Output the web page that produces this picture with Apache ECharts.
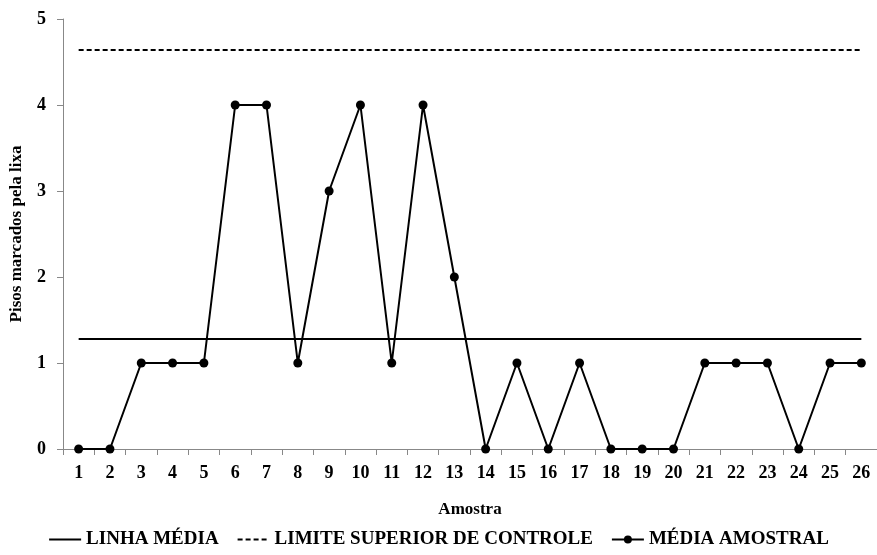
<!DOCTYPE html>
<html><head><meta charset="utf-8">
<script src="https://cdn.jsdelivr.net/npm/echarts@6/dist/echarts.min.js"></script>
<style>html,body{margin:0;padding:0;background:#fff}#c{width:877px;height:555px}</style>
</head><body><div id="c"></div>
<script>
const categories = ['1','2','3','4','5','6','7','8','9','10','11','12','13','14','15','16','17','18','19','20','21','22','23','24','25','26'];
const mediaAmostral = [0,0,1,1,1,4,4,1,3,4,1,4,2,0,1,0,1,0,0,0,1,1,1,0,1,1];
const linhaMedia = [1.28,1.28,1.28,1.28,1.28,1.28,1.28,1.28,1.28,1.28,1.28,1.28,1.28,1.28,1.28,1.28,1.28,1.28,1.28,1.28,1.28,1.28,1.28,1.28,1.28,1.28];
const limiteSuperior = [4.64,4.64,4.64,4.64,4.64,4.64,4.64,4.64,4.64,4.64,4.64,4.64,4.64,4.64,4.64,4.64,4.64,4.64,4.64,4.64,4.64,4.64,4.64,4.64,4.64,4.64];
const yTicks = [0,1,2,3,4,5];

const font = 'Liberation Serif, Times New Roman, serif';
const noDot = {color: 'rgba(0,0,0,0)', borderWidth: 0, borderColor: 'rgba(0,0,0,0)'};
const chart = echarts.init(document.getElementById('c'));
chart.setOption({
  animation: false,
  backgroundColor: '#fff',
  textStyle: {fontFamily: font, color: '#000'},
  grid: {left: 61, right: -7, top: 19, bottom: 106},
  legend: {
    bottom: 1, left: 'center', itemGap: 18, itemWidth: 32, itemHeight: 10,
    textStyle: {fontFamily: font, fontWeight: 'bold', fontSize: 19, color: '#000'},
    data: [
      {name: 'LINHA MÉDIA', itemStyle: noDot},
      {name: 'LIMITE SUPERIOR DE CONTROLE', itemStyle: noDot},
      {name: 'MÉDIA AMOSTRAL'}
    ]
  },
  xAxis: {
    type: 'category', data: categories, boundaryGap: true,
    name: 'Amostra', nameLocation: 'middle', nameGap: 52,
    nameTextStyle: {fontFamily: font, fontWeight: 'bold', fontSize: 17, color: '#000'},
    axisLine: {lineStyle: {color: '#888', width: 1}},
    axisTick: {show: true, alignWithLabel: false, length: 6, lineStyle: {color: '#888'}},
    axisLabel: {fontFamily: font, fontWeight: 'bold', fontSize: 18, color: '#000', margin: 15, interval: 0}
  },
  yAxis: {
    type: 'value', min: 0, max: 5, interval: 1,
    name: 'Pisos marcados pela lixa', nameLocation: 'middle', nameGap: 38, nameRotate: 90,
    nameTextStyle: {fontFamily: font, fontWeight: 'bold', fontSize: 17, color: '#000'},
    axisLine: {show: true, lineStyle: {color: '#888', width: 1}},
    axisTick: {show: true, length: 6, lineStyle: {color: '#888'}},
    splitLine: {show: false},
    axisLabel: {fontFamily: font, fontWeight: 'bold', fontSize: 18, color: '#000', margin: 17,
      formatter: v => yTicks.includes(v) ? String(v) : ''}
  },
  series: [
    {name: 'LINHA MÉDIA', type: 'line', data: linhaMedia, symbol: 'none',
     lineStyle: {color: '#000', width: 2}, itemStyle: {color: '#000'}},
    {name: 'LIMITE SUPERIOR DE CONTROLE', type: 'line', data: limiteSuperior, symbol: 'none',
     lineStyle: {color: '#000', width: 2, type: [5, 3]}, itemStyle: {color: '#000'}},
    {name: 'MÉDIA AMOSTRAL', type: 'line', data: mediaAmostral, symbol: 'circle', symbolSize: 9,
     lineStyle: {color: '#000', width: 2}, itemStyle: {color: '#000'}}
  ]
});
</script></body></html>
